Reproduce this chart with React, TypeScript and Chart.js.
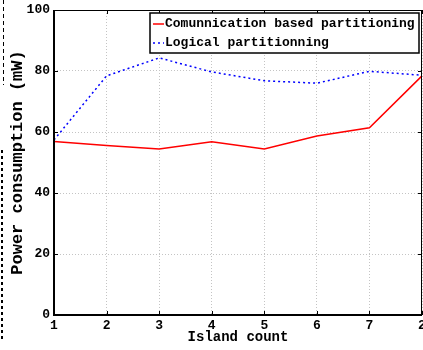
import React, { useEffect, useRef } from "react";
import { Chart, registerables } from "chart.js";

Chart.register(...registerables);

const categories = ["1", "2", "3", "4", "5", "6", "7", "2"];
const communicationBased = [56.9, 55.6, 54.4, 56.8, 54.4, 58.7, 61.4, 78.4];
const logicalPartitioning = [57.4, 78.4, 84.3, 79.7, 76.8, 76.0, 79.9, 78.6];
const yTicks = [0, 20, 40, 60, 80, 100];
const seriesNames = ["Comunnication based partitioning", "Logical partitionning"];
const xTitle = "Island count";
const yTitle = "Power consumption (mW)";

const MONO = "'Liberation Mono', 'DejaVu Sans Mono', monospace";

const framePlugin = {
  id: "frame",
  afterDatasetsDraw(chart: any) {
    const { ctx, chartArea } = chart;
    const { left, right, top, bottom } = chartArea;
    const xs = chart.scales.x;
    const ys = chart.scales.y;
    ctx.save();
    ctx.strokeStyle = "#000";
    ctx.setLineDash([]);
    // top & right thin
    ctx.lineWidth = 1;
    ctx.beginPath();
    ctx.moveTo(left, top + 0.5);
    ctx.lineTo(right, top + 0.5);
    ctx.moveTo(right - 0.5, top);
    ctx.lineTo(right - 0.5, bottom);
    ctx.stroke();
    // inward ticks
    ctx.beginPath();
    categories.forEach((_, i) => {
      const x = Math.round(xs.getPixelForValue(i)) + 0.5;
      ctx.moveTo(x, bottom);
      ctx.lineTo(x, bottom - 4);
      ctx.moveTo(x, top);
      ctx.lineTo(x, top + 4);
    });
    yTicks.forEach((v) => {
      const y = Math.round(ys.getPixelForValue(v)) + 0.5;
      ctx.moveTo(left, y);
      ctx.lineTo(left + 4, y);
      ctx.moveTo(right, y);
      ctx.lineTo(right - 4, y);
    });
    ctx.stroke();
    // left & bottom thick
    ctx.lineWidth = 2;
    ctx.beginPath();
    ctx.moveTo(left, top);
    ctx.lineTo(left, bottom);
    ctx.lineTo(right, bottom);
    ctx.stroke();

    // legend
    const lx = 150, ly = 13, lw = 269, lh = 40;
    ctx.fillStyle = "#fff";
    ctx.fillRect(lx, ly, lw, lh);
    ctx.lineWidth = 1.5;
    ctx.strokeStyle = "#000";
    ctx.strokeRect(lx, ly, lw, lh);
    const rows = [
      { y: 24, color: "#ff0000", dash: [] as number[] },
      { y: 43, color: "#0000ff", dash: [2, 3] },
    ];
    rows.forEach((r, i) => {
      ctx.strokeStyle = r.color;
      ctx.lineWidth = 1.5;
      ctx.setLineDash(r.dash);
      ctx.beginPath();
      ctx.moveTo(153, r.y);
      ctx.lineTo(164, r.y);
      ctx.stroke();
      ctx.setLineDash([]);
      ctx.fillStyle = "#000";
      ctx.font = `bold 13px ${MONO}`;
      ctx.textBaseline = "middle";
      ctx.textAlign = "left";
      ctx.fillText(seriesNames[i], 165, r.y);
    });

    // left-edge artifacts (neighbouring figure borders)
    ctx.strokeStyle = "#000";
    ctx.lineWidth = 1;
    ctx.setLineDash([4, 3]);
    ctx.beginPath();
    ctx.moveTo(3.5, 0);
    ctx.lineTo(3.5, 85);
    ctx.stroke();
    ctx.lineWidth = 2;
    ctx.setLineDash([3, 3]);
    ctx.beginPath();
    ctx.moveTo(2, 150);
    ctx.lineTo(2, 339);
    ctx.stroke();
    ctx.restore();
  },
};

export default function App() {
  const ref = useRef<HTMLCanvasElement>(null);
  useEffect(() => {
    if (!ref.current) return;
    const chart = new Chart(ref.current, {
      type: "line",
      data: {
        labels: categories,
        datasets: [
          {
            label: seriesNames[0],
            data: communicationBased,
            borderColor: "#ff0000",
            borderWidth: 1.5,
            pointRadius: 0,
            tension: 0,
            fill: false,
          },
          {
            label: seriesNames[1],
            data: logicalPartitioning,
            borderColor: "#0000ff",
            borderWidth: 1.5,
            borderDash: [2, 3],
            pointRadius: 0,
            tension: 0,
            fill: false,
          },
        ],
      },
      options: {
        animation: false,
        responsive: false,
        maintainAspectRatio: false,
        layout: { padding: { top: 10, right: 1, left: 0, bottom: 0 } },
        plugins: { legend: { display: false }, tooltip: { enabled: false } },
        scales: {
          x: {
            type: "category",
            offset: false,
            grid: { color: "#c4c4c4", lineWidth: 1, drawTicks: false },
            border: { display: false, dash: [1, 2] },
            ticks: {
              color: "#000",
              font: { family: MONO, size: 13, weight: "bold" },
              padding: 3,
              maxRotation: 0,
              autoSkip: false,
            },
            title: {
              display: true,
              text: xTitle,
              color: "#000",
              font: { family: MONO, size: 14, weight: "bold" },
              padding: { top: 0, bottom: 4 },
            },
            afterFit(scale: any) {
              scale.height = 35;
              scale.paddingLeft = 0;
              scale.paddingRight = 0;
            },
          },
          y: {
            min: 0,
            max: 100,
            grid: { color: "#c4c4c4", lineWidth: 1, drawTicks: false },
            border: { display: false, dash: [1, 2] },
            ticks: {
              stepSize: 20,
              color: "#000",
              font: { family: MONO, size: 13, weight: "bold" },
              padding: 4,
            },
            title: {
              display: true,
              text: yTitle,
              color: "#000",
              font: { family: MONO, size: 17, weight: "bold" },
              padding: { top: 8, bottom: 0 },
            },
            afterFit(scale: any) {
              scale.width = 54;
              scale.paddingTop = 0;
              scale.paddingBottom = 0;
            },
          },
        },
      },
      plugins: [framePlugin],
    } as any);
    return () => chart.destroy();
  }, []);
  return (
    <div style={{ position: "fixed", left: 0, top: 0, width: 423, height: 350, background: "#fff" }}>
      <canvas ref={ref} width={423} height={350} style={{ display: "block" }} />
    </div>
  );
}
